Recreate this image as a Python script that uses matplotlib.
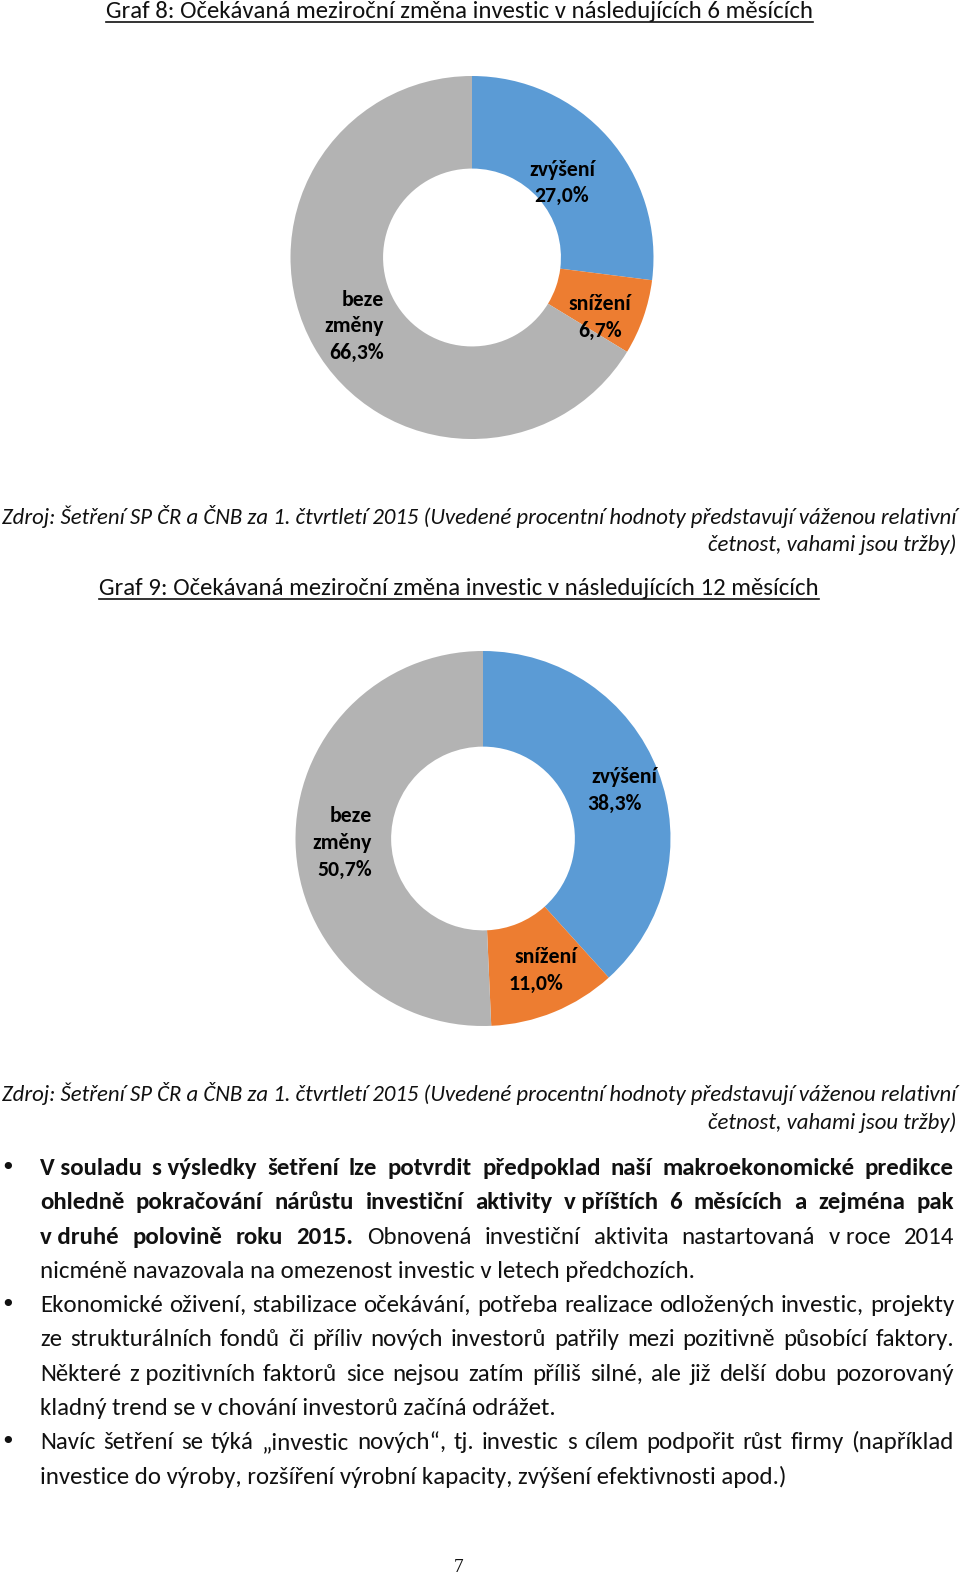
import matplotlib
matplotlib.use("Agg")
import matplotlib.pyplot as plt
from matplotlib import font_manager as fm
from matplotlib.lines import Line2D

# ---------------- data ----------------
categories = ["zvýšení", "snížení", "beze změny"]
graf8_values = [27.0, 6.7, 66.3]
graf9_values = [38.3, 11.0, 50.7]
colors = ["#5B9BD5", "#ED7D31", "#B3B3B3"]

title8 = "Graf 8: Očekávaná meziroční změna investic v následujících 6 měsících"
title9 = "Graf 9: Očekávaná meziroční změna investic v následujících 12 měsících"
source_l1 = ("Zdroj: Šetření SP ČR a ČNB za 1. čtvrtletí 2015 (Uvedené procentní "
             "hodnoty představují váženou relativní")
source_l2 = "četnost, vahami jsou tržby)"

# body text: each line = list of (unit, bold); justified flag; bullet flag
body_lines = [
    ([("V souladu", 1), ("s výsledky", 1), ("šetření", 1), ("lze", 1), ("potvrdit", 1),
      ("předpoklad", 1), ("naší", 1), ("makroekonomické", 1), ("predikce", 1)], True, True),
    ([("ohledně", 1), ("pokračování", 1), ("nárůstu", 1), ("investiční", 1), ("aktivity", 1),
      ("v příštích", 1), ("6", 1), ("měsících", 1), ("a", 1), ("zejména", 1), ("pak", 1)], True, False),
    ([("v druhé", 1), ("polovině", 1), ("roku", 1), ("2015.", 1), ("Obnovená", 0),
      ("investiční", 0), ("aktivita", 0), ("nastartovaná", 0), ("v roce", 0), ("2014", 0)], True, False),
    ([("nicméně navazovala na omezenost investic v letech předchozích.", 0)], False, False),
    ([("Ekonomické", 0), ("oživení,", 0), ("stabilizace", 0), ("očekávání,", 0), ("potřeba", 0),
      ("realizace", 0), ("odložených", 0), ("investic,", 0), ("projekty", 0)], True, True),
    ([("ze", 0), ("strukturálních", 0), ("fondů", 0), ("či", 0), ("příliv", 0), ("nových", 0),
      ("investorů", 0), ("patřily", 0), ("mezi", 0), ("pozitivně", 0), ("působící", 0),
      ("faktory.", 0)], True, False),
    ([("Některé", 0), ("z pozitivních", 0), ("faktorů", 0), ("sice", 0), ("nejsou", 0),
      ("zatím", 0), ("příliš", 0), ("silné,", 0), ("ale", 0), ("již", 0), ("delší", 0),
      ("dobu", 0), ("pozorovaný", 0)], True, False),
    ([("kladný trend se v chování investorů začíná odrážet.", 0)], False, False),
    ([("Navíc", 0), ("šetření", 0), ("se", 0), ("týká", 0), ("„investic", 0), ("nových“,", 0),
      ("tj.", 0), ("investic", 0), ("s", 0), ("cílem", 0), ("podpořit", 0), ("růst", 0),
      ("firmy", 0), ("(například", 0)], True, True),
    ([("investice do výroby, rozšíření výrobní kapacity, zvýšení efektivnosti apod.)", 0)],
     False, False),
]
page_number = "7"

# ---------------- fonts ----------------
names = {f.name for f in fm.fontManager.ttflist}
FAM = next(n for n in ["Carlito", "Calibri", "Lato", "Open Sans", "DejaVu Sans"] if n in names)
has_italic = any(f.name == FAM and f.style == "italic" for f in fm.fontManager.ttflist)
FAM_IT = FAM if has_italic else "DejaVu Sans"
SERIF = "Liberation Serif" if "Liberation Serif" in names else "DejaVu Serif"

# ---------------- figure ----------------
W, H = 960, 1579
fig = plt.figure(figsize=(W / 100, H / 100), dpi=100)
fig.patch.set_facecolor("white")


def donut(cx, cy, r, values):
    ax = fig.add_axes([(cx - r) / W, 1 - (cy + r) / H, 2 * r / W, 2 * r / H])
    ax.pie(values, colors=colors, startangle=90, counterclock=False, radius=1,
           wedgeprops=dict(width=0.51, linewidth=0))
    ax.set_xlim(-1, 1)
    ax.set_ylim(-1, 1)
    ax.axis("off")
    return ax


donut(472, 257.5, 181.5, graf8_values)
donut(483, 838.5, 187.5, graf9_values)

ov = fig.add_axes([0, 0, 1, 1], zorder=5)
ov.set_xlim(0, W)
ov.set_ylim(H, 0)
ov.axis("off")
renderer = fig.canvas.get_renderer()


def text_w(s, size, weight="normal", style="normal", family=FAM):
    t = ov.text(0, 0, s, fontsize=size, fontweight=weight, fontstyle=style, family=family)
    w = t.get_window_extent(renderer).width
    t.remove()
    return w


def fit(s, target, weight="normal", style="normal", family=FAM):
    return 20 * target / text_w(s, 20, weight, style, family)


TXT = "#111111"

# ---------------- titles ----------------
tsize = fit(title8, 707)
for title, cx, base, uy in [(title8, 459.5, 18, 21.5), (title9, 459, 595, 599)]:
    ov.text(cx, base, title, fontsize=tsize, family=FAM, ha="center", va="baseline", color=TXT)
    w = text_w(title, tsize)
    ov.add_line(Line2D([cx - w / 2, cx + w / 2], [uy, uy], color=TXT, lw=1.2))

# ---------------- sources ----------------
ssize = fit(source_l1, 953, style="italic", family=FAM_IT)
for b1, b2 in [(524, 551), (1101, 1129)]:
    ov.text(2, b1, source_l1, fontsize=ssize, family=FAM_IT, style="italic",
            ha="left", va="baseline", color=TXT)
    ov.text(956, b2, source_l2, fontsize=ssize, family=FAM_IT, style="italic",
            ha="right", va="baseline", color=TXT)

# ---------------- donut labels ----------------
def pct(v):
    return f"{v:.1f}".replace(".", ",") + "%"


lsize = fit("zvýšení", 66, weight="bold")
label_layout = {
    8: [([(562, 176), (562, 202)], "center"),
        ([(600, 310), (600, 337)], "center"),
        ([(384, 306), (384, 332), (384, 359)], "right")],
    9: [([(591, 783), (587, 810)], "left"),
        ([(514, 963), (509, 990)], "left"),
        ([(372, 822), (372, 849), (372, 876)], "right")],
}
for key, vals in [(8, graf8_values), (9, graf9_values)]:
    for cat, v, (pos, ha) in zip(categories, vals, label_layout[key]):
        lines = cat.split(" ") + [pct(v)]
        for (x, y), s in zip(pos, lines):
            ov.text(x, y, s, fontsize=lsize, fontweight="bold", family=FAM,
                    ha=ha, va="baseline", color="#000000")

# ---------------- body ----------------
bsize = fit(body_lines[9][0][0][0], 747)
x0, x1 = 40, 954
space = text_w("n n", bsize) - text_w("nn", bsize)
base0, step = 1175, 34.3
for i, (units, justify, bullet) in enumerate(body_lines):
    y = base0 + i * step
    widths = [text_w(u, bsize, "bold" if b else "normal") for u, b in units]
    if justify and len(units) > 1:
        gap = (x1 - x0 - sum(widths)) / (len(units) - 1)
    else:
        gap = space
    x = x0
    for (u, b), w in zip(units, widths):
        ov.text(x, y, u, fontsize=bsize, fontweight="bold" if b else "normal", family=FAM,
                ha="left", va="baseline", color=TXT)
        x += w + gap
    if bullet:
        ov.text(8, y - 7, "•", fontsize=bsize, family="DejaVu Sans", ha="center",
                va="center", color=TXT)

ov.text(459, 1576, page_number, fontsize=14, family=SERIF, ha="center", va="bottom", color=TXT)

fig.savefig("out.png", dpi=100, facecolor="white")
